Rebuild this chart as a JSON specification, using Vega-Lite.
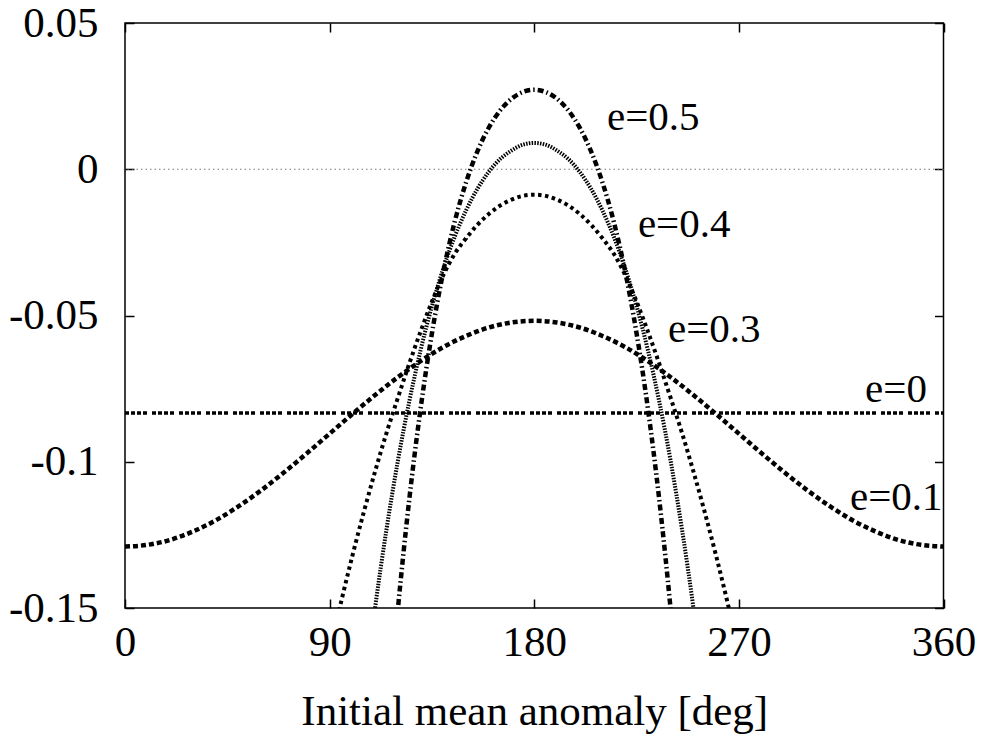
{
  "$schema": "https://vega.github.io/schema/vega-lite/v6.json",
  "width": 818.5,
  "height": 585,
  "autosize": {"type": "none"},
  "padding": {"left": 125, "top": 23, "right": 39.5, "bottom": 132},
  "background": "white",
  "config": {
    "view": {"stroke": "black", "strokeWidth": 1.5},
    "axis": {
      "domain": false, "grid": false, "ticks": true, "labelFlush": false,
      "tickColor": "black", "tickWidth": 1.5, "tickSize": -9,
      "labelFont": "Liberation Serif", "labelFontSize": 43, "labelColor": "black",
      "titleFont": "Liberation Serif", "titleFontSize": 43, "titleFontWeight": "normal", "titleColor": "black"
    }
  },
  "datasets": {
    "zero": [{"ref": "zero", "v": 0}],
    "curves": [
      {"e": "0", "M": 0, "v": -0.0833}, {"e": "0", "M": 360, "v": -0.0833},
      {"e": "0.1", "M": 0, "v": -0.1290}, {"e": "0.1", "M": 10, "v": -0.1284}, {"e": "0.1", "M": 20, "v": -0.1267},
      {"e": "0.1", "M": 30, "v": -0.1238}, {"e": "0.1", "M": 40, "v": -0.1200}, {"e": "0.1", "M": 50, "v": -0.1152},
      {"e": "0.1", "M": 60, "v": -0.1097}, {"e": "0.1", "M": 70, "v": -0.1036}, {"e": "0.1", "M": 80, "v": -0.0971},
      {"e": "0.1", "M": 90, "v": -0.0904}, {"e": "0.1", "M": 100, "v": -0.0837}, {"e": "0.1", "M": 110, "v": -0.0772},
      {"e": "0.1", "M": 120, "v": -0.0711}, {"e": "0.1", "M": 130, "v": -0.0656}, {"e": "0.1", "M": 140, "v": -0.0608},
      {"e": "0.1", "M": 150, "v": -0.0570}, {"e": "0.1", "M": 160, "v": -0.0541}, {"e": "0.1", "M": 170, "v": -0.0524},
      {"e": "0.1", "M": 180, "v": -0.0518}, {"e": "0.1", "M": 190, "v": -0.0524}, {"e": "0.1", "M": 200, "v": -0.0541},
      {"e": "0.1", "M": 210, "v": -0.0570}, {"e": "0.1", "M": 220, "v": -0.0608}, {"e": "0.1", "M": 230, "v": -0.0656},
      {"e": "0.1", "M": 240, "v": -0.0711}, {"e": "0.1", "M": 250, "v": -0.0772}, {"e": "0.1", "M": 260, "v": -0.0837},
      {"e": "0.1", "M": 270, "v": -0.0904}, {"e": "0.1", "M": 280, "v": -0.0971}, {"e": "0.1", "M": 290, "v": -0.1036},
      {"e": "0.1", "M": 300, "v": -0.1097}, {"e": "0.1", "M": 310, "v": -0.1152}, {"e": "0.1", "M": 320, "v": -0.1200},
      {"e": "0.1", "M": 330, "v": -0.1238}, {"e": "0.1", "M": 340, "v": -0.1267}, {"e": "0.1", "M": 350, "v": -0.1284},
      {"e": "0.1", "M": 360, "v": -0.1290},
      {"e": "0.3", "M": 90, "v": -0.1650}, {"e": "0.3", "M": 95, "v": -0.1481}, {"e": "0.3", "M": 100, "v": -0.1322},
      {"e": "0.3", "M": 105, "v": -0.1173}, {"e": "0.3", "M": 110, "v": -0.1033}, {"e": "0.3", "M": 115, "v": -0.0902},
      {"e": "0.3", "M": 120, "v": -0.0782}, {"e": "0.3", "M": 125, "v": -0.0665}, {"e": "0.3", "M": 130, "v": -0.0555},
      {"e": "0.3", "M": 135, "v": -0.0452}, {"e": "0.3", "M": 140, "v": -0.0362}, {"e": "0.3", "M": 145, "v": -0.0289},
      {"e": "0.3", "M": 150, "v": -0.0236}, {"e": "0.3", "M": 155, "v": -0.0190}, {"e": "0.3", "M": 160, "v": -0.0153},
      {"e": "0.3", "M": 165, "v": -0.0124}, {"e": "0.3", "M": 170, "v": -0.0104}, {"e": "0.3", "M": 175, "v": -0.0091},
      {"e": "0.3", "M": 180, "v": -0.0087}, {"e": "0.3", "M": 185, "v": -0.0091}, {"e": "0.3", "M": 190, "v": -0.0104},
      {"e": "0.3", "M": 195, "v": -0.0124}, {"e": "0.3", "M": 200, "v": -0.0153}, {"e": "0.3", "M": 205, "v": -0.0190},
      {"e": "0.3", "M": 210, "v": -0.0236}, {"e": "0.3", "M": 215, "v": -0.0289}, {"e": "0.3", "M": 220, "v": -0.0362},
      {"e": "0.3", "M": 225, "v": -0.0452}, {"e": "0.3", "M": 230, "v": -0.0555}, {"e": "0.3", "M": 235, "v": -0.0665},
      {"e": "0.3", "M": 240, "v": -0.0782}, {"e": "0.3", "M": 245, "v": -0.0902}, {"e": "0.3", "M": 250, "v": -0.1033},
      {"e": "0.3", "M": 255, "v": -0.1173}, {"e": "0.3", "M": 260, "v": -0.1322}, {"e": "0.3", "M": 265, "v": -0.1481},
      {"e": "0.3", "M": 270, "v": -0.1650},
      {"e": "0.4", "M": 105, "v": -0.1803}, {"e": "0.4", "M": 110, "v": -0.1499}, {"e": "0.4", "M": 115, "v": -0.1232},
      {"e": "0.4", "M": 120, "v": -0.0998}, {"e": "0.4", "M": 125, "v": -0.0795}, {"e": "0.4", "M": 130, "v": -0.0619},
      {"e": "0.4", "M": 135, "v": -0.0468}, {"e": "0.4", "M": 140, "v": -0.0339}, {"e": "0.4", "M": 145, "v": -0.0231},
      {"e": "0.4", "M": 150, "v": -0.0141}, {"e": "0.4", "M": 155, "v": -0.0067}, {"e": "0.4", "M": 160, "v": -0.0009},
      {"e": "0.4", "M": 165, "v": 0.0035}, {"e": "0.4", "M": 170, "v": 0.0064}, {"e": "0.4", "M": 175, "v": 0.0084},
      {"e": "0.4", "M": 180, "v": 0.0090}, {"e": "0.4", "M": 185, "v": 0.0084}, {"e": "0.4", "M": 190, "v": 0.0064},
      {"e": "0.4", "M": 195, "v": 0.0035}, {"e": "0.4", "M": 200, "v": -0.0009}, {"e": "0.4", "M": 205, "v": -0.0067},
      {"e": "0.4", "M": 210, "v": -0.0141}, {"e": "0.4", "M": 215, "v": -0.0231}, {"e": "0.4", "M": 220, "v": -0.0339},
      {"e": "0.4", "M": 225, "v": -0.0468}, {"e": "0.4", "M": 230, "v": -0.0619}, {"e": "0.4", "M": 235, "v": -0.0795},
      {"e": "0.4", "M": 240, "v": -0.0998}, {"e": "0.4", "M": 245, "v": -0.1232}, {"e": "0.4", "M": 250, "v": -0.1499},
      {"e": "0.4", "M": 255, "v": -0.1803},
      {"e": "0.5", "M": 115, "v": -0.1950}, {"e": "0.5", "M": 120, "v": -0.1506}, {"e": "0.5", "M": 125, "v": -0.1131},
      {"e": "0.5", "M": 130, "v": -0.0819}, {"e": "0.5", "M": 135, "v": -0.0561}, {"e": "0.5", "M": 140, "v": -0.0350},
      {"e": "0.5", "M": 145, "v": -0.0180}, {"e": "0.5", "M": 150, "v": -0.0045}, {"e": "0.5", "M": 155, "v": 0.0061},
      {"e": "0.5", "M": 160, "v": 0.0142}, {"e": "0.5", "M": 165, "v": 0.0201}, {"e": "0.5", "M": 170, "v": 0.0241},
      {"e": "0.5", "M": 175, "v": 0.0264}, {"e": "0.5", "M": 180, "v": 0.0272}, {"e": "0.5", "M": 185, "v": 0.0264},
      {"e": "0.5", "M": 190, "v": 0.0241}, {"e": "0.5", "M": 195, "v": 0.0201}, {"e": "0.5", "M": 200, "v": 0.0142},
      {"e": "0.5", "M": 205, "v": 0.0061}, {"e": "0.5", "M": 210, "v": -0.0045}, {"e": "0.5", "M": 215, "v": -0.0180},
      {"e": "0.5", "M": 220, "v": -0.0350}, {"e": "0.5", "M": 225, "v": -0.0561}, {"e": "0.5", "M": 230, "v": -0.0819},
      {"e": "0.5", "M": 235, "v": -0.1131}, {"e": "0.5", "M": 240, "v": -0.1506}, {"e": "0.5", "M": 245, "v": -0.1950}
    ],
    "labels": [
      {"label": "e=0.5", "M": 212, "v": 0.0135},
      {"label": "e=0.4", "M": 225.6, "v": -0.0231},
      {"label": "e=0.3", "M": 238.8, "v": -0.059},
      {"label": "e=0", "M": 325.5, "v": -0.0795},
      {"label": "e=0.1", "M": 318.9, "v": -0.1165}
    ]
  },
  "layer": [
    {
      "data": {"name": "zero"},
      "mark": {"type": "rule", "color": "#777777", "strokeWidth": 1.2, "strokeDash": [1.5, 3]},
      "encoding": {
        "y": {"field": "v", "type": "quantitative", "scale": {"domain": [-0.15, 0.05], "nice": false, "zero": false}, "axis": null}
      }
    },
    {
      "data": {"name": "curves"},
      "transform": [{"filter": "datum.e == '0'"}],
      "mark": {"type": "line", "color": "black", "strokeWidth": 3.5, "strokeDash": [4, 2, 4, 2, 4, 2, 4, 5], "clip": true},
      "encoding": {
        "x": {"field": "M", "type": "quantitative", "scale": {"domain": [0, 360], "nice": false, "zero": false},
              "axis": {"orient": "bottom", "values": [0, 90, 180, 270, 360], "labelPadding": 22, "title": "Initial mean anomaly [deg]", "titlePadding": 26}},
        "y": {"field": "v", "type": "quantitative", "scale": {"domain": [-0.15, 0.05], "nice": false, "zero": false},
              "axis": {"orient": "left", "values": [-0.15, -0.1, -0.05, 0, 0.05], "labelPadding": 36, "title": null,
                       "labelExpr": "datum.value == 0 ? '0' : (datum.value < 0 ? '-' : '') + format(abs(datum.value), '')"}}
      }
    },
    {
      "data": {"name": "curves"},
      "transform": [{"filter": "datum.e == '0.1'"}],
      "mark": {"type": "line", "color": "black", "strokeWidth": 4.5, "strokeDash": [5, 3], "interpolate": "monotone", "clip": true},
      "encoding": {
        "x": {"field": "M", "type": "quantitative", "scale": {"domain": [0, 360], "nice": false, "zero": false},
              "axis": {"orient": "top", "values": [0, 90, 180, 270, 360], "labels": false, "title": null}},
        "y": {"field": "v", "type": "quantitative", "scale": {"domain": [-0.15, 0.05], "nice": false, "zero": false},
              "axis": {"orient": "right", "values": [-0.15, -0.1, -0.05, 0, 0.05], "labels": false, "title": null}}
      }
    },
    {
      "data": {"name": "curves"},
      "transform": [{"filter": "datum.e == '0.3'"}],
      "mark": {"type": "line", "color": "black", "strokeWidth": 4, "strokeDash": [3.5, 3.5], "interpolate": "monotone", "clip": true},
      "encoding": {
        "x": {"field": "M", "type": "quantitative", "scale": {"domain": [0, 360], "nice": false, "zero": false}, "axis": null},
        "y": {"field": "v", "type": "quantitative", "scale": {"domain": [-0.15, 0.05], "nice": false, "zero": false}, "axis": null}
      }
    },
    {
      "data": {"name": "curves"},
      "transform": [{"filter": "datum.e == '0.4'"}],
      "mark": {"type": "line", "color": "black", "strokeWidth": 4, "strokeDash": [1.5, 1.3], "interpolate": "monotone", "clip": true},
      "encoding": {
        "x": {"field": "M", "type": "quantitative", "scale": {"domain": [0, 360], "nice": false, "zero": false}, "axis": null},
        "y": {"field": "v", "type": "quantitative", "scale": {"domain": [-0.15, 0.05], "nice": false, "zero": false}, "axis": null}
      }
    },
    {
      "data": {"name": "curves"},
      "transform": [{"filter": "datum.e == '0.5'"}],
      "mark": {"type": "line", "color": "black", "strokeWidth": 4.5, "strokeDash": [6, 3, 1.5, 3], "interpolate": "monotone", "clip": true},
      "encoding": {
        "x": {"field": "M", "type": "quantitative", "scale": {"domain": [0, 360], "nice": false, "zero": false}, "axis": null},
        "y": {"field": "v", "type": "quantitative", "scale": {"domain": [-0.15, 0.05], "nice": false, "zero": false}, "axis": null}
      }
    },
    {
      "data": {"name": "labels"},
      "mark": {"type": "text", "align": "left", "baseline": "alphabetic", "font": "Liberation Serif", "fontSize": 41, "color": "black"},
      "encoding": {
        "x": {"field": "M", "type": "quantitative", "scale": {"domain": [0, 360], "nice": false, "zero": false}, "axis": null},
        "y": {"field": "v", "type": "quantitative", "scale": {"domain": [-0.15, 0.05], "nice": false, "zero": false}, "axis": null},
        "text": {"field": "label"}
      }
    }
  ],
  "resolve": {"axis": {"x": "independent", "y": "independent"}}
}
